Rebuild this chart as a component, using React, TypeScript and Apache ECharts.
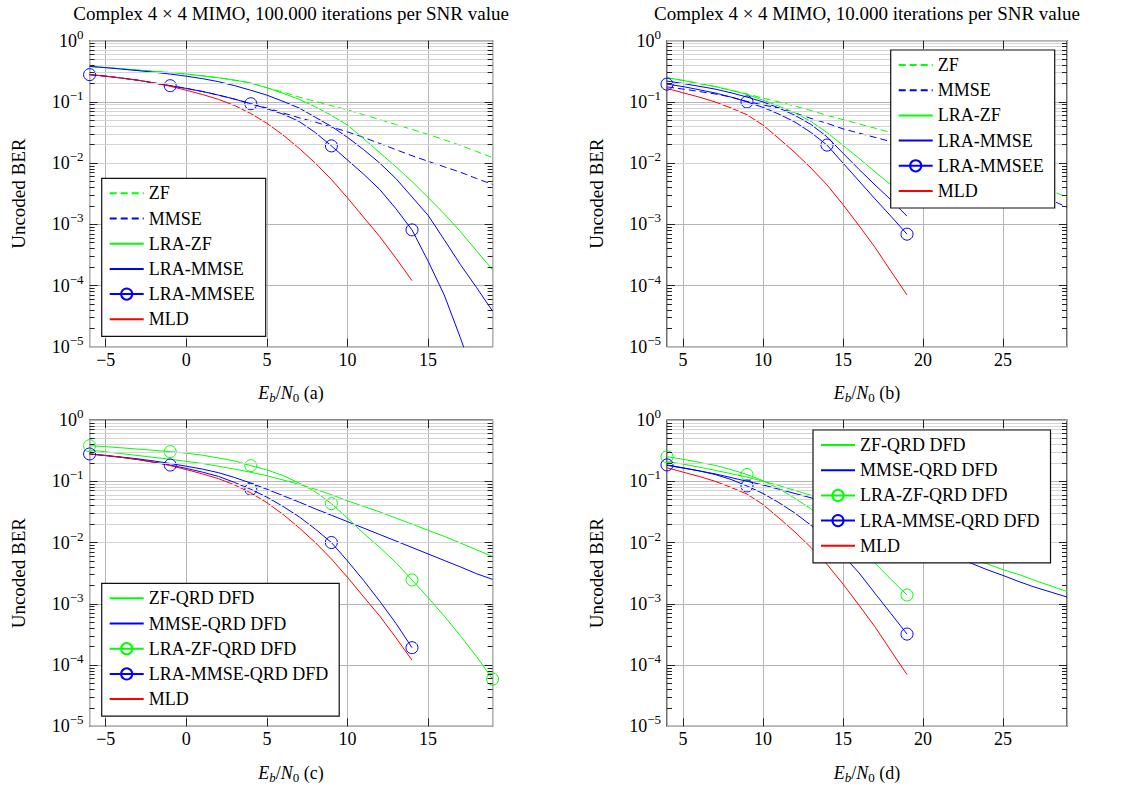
import React, { useEffect, useRef } from "react";
import * as echarts from "echarts";

const FONT = "Liberation Serif, serif";
const GREEN = "#00ff00";
const BLUE = "#0000ff";
const RED = "#ff0000";
const MAJOR_GRID = "#b4b4b4";
const MINOR_GRID = "#d4d4d4";
const TICK = "#222222";

// ---------- axes / ticks ----------
const X_AC = [-6, -5, -4, -3, -2, -1, 0, 1, 2, 3, 4, 5, 6, 7, 8, 9, 10, 11, 12, 13, 14, 15, 16, 17, 18, 19];
const X_BD = [4, 5, 6, 7, 8, 9, 10, 11, 12, 13, 14, 15, 16, 17, 18, 19, 20, 21, 22, 23, 24, 25, 26, 27, 28, 29];
const X_TICKS_AC = [-5, 0, 5, 10, 15];
const X_TICKS_BD = [5, 10, 15, 20, 25];
const DECADES = [1e-5, 1e-4, 1e-3, 1e-2, 1e-1, 1];
const MINOR_FACTORS = [2, 3, 4, 5, 6, 7, 8, 9];

const TITLES = [
  "Complex 4 × 4 MIMO, 100.000 iterations per SNR value",
  "Complex 4 × 4 MIMO, 10.000 iterations per SNR value",
];
const Y_NAME = "Uncoded BER";
const PANEL_TAGS = ["(a)", "(b)", "(c)", "(d)"];

// ---------- panel (a) ----------
const A_ZF = [0.380, 0.363, 0.347, 0.331, 0.316, 0.302, 0.285, 0.266, 0.248, 0.226, 0.204, 0.170, 0.145, 0.120, 0.102, 0.087, 0.074, 0.0617, 0.0513, 0.0427, 0.0355, 0.0295, 0.024, 0.0195, 0.0155, 0.0123];
const A_MMSE = [0.279, 0.263, 0.245, 0.226, 0.204, 0.184, 0.166, 0.148, 0.129, 0.111, 0.0933, 0.0794, 0.0661, 0.0550, 0.0468, 0.0389, 0.0324, 0.0263, 0.0209, 0.0166, 0.0132, 0.0107, 0.0087, 0.0071, 0.0056, 0.0045];
const A_LRA_ZF = [0.380, 0.363, 0.347, 0.331, 0.316, 0.302, 0.285, 0.266, 0.248, 0.226, 0.204, 0.170, 0.138, 0.110, 0.0832, 0.0603, 0.0417, 0.0251, 0.0148, 0.0087, 0.0050, 0.00275, 0.00148, 0.00076, 0.00037, 0.00018];
const A_LRA_MMSE = [0.380, 0.363, 0.343, 0.324, 0.305, 0.285, 0.263, 0.240, 0.214, 0.184, 0.155, 0.129, 0.102, 0.0794, 0.0562, 0.0398, 0.0263, 0.0166, 0.0100, 0.0056, 0.0028, 0.0014, 0.00056, 0.00022, 0.000093, 0.000038];
const A_LRA_MMSEE = [0.279, 0.263, 0.245, 0.226, 0.204, 0.184, 0.166, 0.148, 0.129, 0.111, 0.0933, 0.0776, 0.0631, 0.0479, 0.0316, 0.0191, 0.0112, 0.0066, 0.0037, 0.0018, 0.00081, 0.00025, 0.00007, 0.000014, 0.0000025];
const A_MLD = [0.279, 0.263, 0.245, 0.226, 0.204, 0.180, 0.155, 0.132, 0.110, 0.0871, 0.0646, 0.0447, 0.0288, 0.0174, 0.0100, 0.0054, 0.0027, 0.0013, 0.00063, 0.00028, 0.00012];

// ---------- panel (b) ----------
const B_ZF = [0.248, 0.224, 0.200, 0.178, 0.155, 0.135, 0.115, 0.100, 0.0851, 0.0724, 0.0603, 0.0513, 0.0437, 0.0372, 0.0316, 0.0269, 0.0219, 0.0178, 0.0145, 0.0117, 0.0093, 0.0074, 0.0059, 0.0046, 0.0035, 0.0028];
const B_MMSE = [0.176, 0.162, 0.148, 0.135, 0.120, 0.102, 0.0891, 0.0794, 0.0661, 0.0537, 0.0447, 0.0363, 0.0309, 0.0263, 0.0224, 0.0182, 0.0148, 0.0120, 0.0098, 0.0078, 0.0062, 0.0049, 0.0039, 0.0031, 0.0025, 0.0019];
const B_LRA_ZF = [0.248, 0.224, 0.200, 0.178, 0.155, 0.132, 0.107, 0.0851, 0.0661, 0.0479, 0.0316, 0.0195, 0.0120, 0.0072, 0.0044, 0.0025];
const B_LRA_MMSE = [0.219, 0.200, 0.180, 0.162, 0.141, 0.120, 0.100, 0.0794, 0.0603, 0.0427, 0.0269, 0.0145, 0.0079, 0.0044, 0.0025, 0.00136];
const B_LRA_MMSEE = [0.195, 0.178, 0.158, 0.140, 0.120, 0.100, 0.0813, 0.0631, 0.0468, 0.0316, 0.0197, 0.0100, 0.0051, 0.0026, 0.00135, 0.00069];
const B_MLD = [0.166, 0.141, 0.120, 0.100, 0.0794, 0.0617, 0.0417, 0.0251, 0.0148, 0.0083, 0.0044, 0.0021, 0.00095, 0.00042, 0.00017, 0.00007];

// ---------- panel (c) ----------
const C_ZF_QRD = [0.324, 0.302, 0.282, 0.263, 0.245, 0.229, 0.211, 0.195, 0.176, 0.158, 0.140, 0.123, 0.105, 0.0891, 0.0741, 0.0603, 0.0479, 0.0389, 0.0316, 0.0251, 0.0200, 0.0158, 0.0126, 0.0098, 0.0076, 0.0059];
const C_MMSE_QRD = [0.279, 0.263, 0.248, 0.232, 0.214, 0.195, 0.176, 0.158, 0.138, 0.115, 0.0933, 0.0741, 0.0582, 0.0457, 0.0355, 0.0279, 0.0219, 0.0172, 0.0135, 0.0106, 0.0083, 0.0065, 0.0051, 0.0040, 0.0031, 0.0025];
const C_LRA_ZF_QRD = [0.381, 0.367, 0.351, 0.335, 0.320, 0.304, 0.288, 0.266, 0.240, 0.214, 0.180, 0.153, 0.124, 0.0933, 0.0676, 0.0431, 0.0251, 0.0141, 0.0083, 0.0047, 0.00245, 0.00126, 0.00063, 0.0003, 0.000138, 0.0000589];
const C_LRA_MMSE_QRD = [0.279, 0.263, 0.245, 0.226, 0.204, 0.184, 0.162, 0.141, 0.120, 0.0955, 0.0741, 0.0550, 0.0389, 0.0263, 0.0166, 0.0100, 0.0050, 0.0024, 0.0011, 0.00048, 0.000192];
const C_MLD = [0.279, 0.263, 0.245, 0.226, 0.204, 0.180, 0.155, 0.132, 0.110, 0.0871, 0.0646, 0.0447, 0.0288, 0.0174, 0.0100, 0.0054, 0.0027, 0.0013, 0.00063, 0.00028, 0.00012];

// ---------- panel (d) ----------
const D_ZF_QRD = [0.209, 0.191, 0.170, 0.151, 0.133, 0.117, 0.100, 0.0851, 0.0708, 0.0589, 0.0468, 0.0363, 0.0282, 0.0224, 0.0174, 0.0138, 0.0110, 0.0087, 0.0069, 0.0055, 0.0045, 0.0036, 0.0030, 0.0024, 0.00195, 0.00158];
const D_MMSE_QRD = [0.182, 0.164, 0.148, 0.132, 0.115, 0.100, 0.0871, 0.0741, 0.0631, 0.0537, 0.0427, 0.0331, 0.0257, 0.0200, 0.0155, 0.0120, 0.0093, 0.0074, 0.0058, 0.0046, 0.0036, 0.0029, 0.0023, 0.00186, 0.00155, 0.00129];
const D_LRA_ZF_QRD = [0.251, 0.229, 0.204, 0.182, 0.155, 0.129, 0.102, 0.0759, 0.0525, 0.0355, 0.0219, 0.0132, 0.0079, 0.0046, 0.0025, 0.00139];
const D_LRA_MMSE_QRD = [0.185, 0.166, 0.148, 0.129, 0.107, 0.0838, 0.0631, 0.0447, 0.0302, 0.0191, 0.0110, 0.0062, 0.0032, 0.00148, 0.00069, 0.00032];
const D_MLD = [0.166, 0.141, 0.120, 0.100, 0.0794, 0.0617, 0.0417, 0.0251, 0.0148, 0.0083, 0.0044, 0.0021, 0.00095, 0.00042, 0.00017, 0.00007];

type Spec = { name: string; x: number[]; y: number[]; color: string; dashed?: boolean; marks?: boolean };

const PANELS = [
  {
    left: 89.6, top: 40.7, width: 403, height: 306, xMin: -6, xMax: 19, xTicks: X_TICKS_AC,
    legendLeft: 101.7, legendTop: 178.3,
    specs: [
      { name: "ZF", x: X_AC, y: A_ZF, color: GREEN, dashed: true },
      { name: "MMSE", x: X_AC, y: A_MMSE, color: BLUE, dashed: true },
      { name: "LRA-ZF", x: X_AC, y: A_LRA_ZF, color: GREEN },
      { name: "LRA-MMSE", x: X_AC, y: A_LRA_MMSE, color: BLUE },
      { name: "LRA-MMSEE", x: X_AC, y: A_LRA_MMSEE, color: BLUE, marks: true },
      { name: "MLD", x: X_AC, y: A_MLD, color: RED },
    ] as Spec[],
  },
  {
    left: 667, top: 40.7, width: 400, height: 306, xMin: 4, xMax: 29, xTicks: X_TICKS_BD,
    legendLeft: 890.7, legendTop: 50,
    specs: [
      { name: "ZF", x: X_BD, y: B_ZF, color: GREEN, dashed: true },
      { name: "MMSE", x: X_BD, y: B_MMSE, color: BLUE, dashed: true },
      { name: "LRA-ZF", x: X_BD, y: B_LRA_ZF, color: GREEN },
      { name: "LRA-MMSE", x: X_BD, y: B_LRA_MMSE, color: BLUE },
      { name: "LRA-MMSEE", x: X_BD, y: B_LRA_MMSEE, color: BLUE, marks: true },
      { name: "MLD", x: X_BD, y: B_MLD, color: RED },
    ] as Spec[],
  },
  {
    left: 89.6, top: 420, width: 403, height: 306.3, xMin: -6, xMax: 19, xTicks: X_TICKS_AC,
    legendLeft: 101.7, legendTop: 583.3,
    specs: [
      { name: "ZF-QRD DFD", x: X_AC, y: C_ZF_QRD, color: GREEN },
      { name: "MMSE-QRD DFD", x: X_AC, y: C_MMSE_QRD, color: BLUE },
      { name: "LRA-ZF-QRD DFD", x: X_AC, y: C_LRA_ZF_QRD, color: GREEN, marks: true },
      { name: "LRA-MMSE-QRD DFD", x: X_AC, y: C_LRA_MMSE_QRD, color: BLUE, marks: true },
      { name: "MLD", x: X_AC, y: C_MLD, color: RED },
    ] as Spec[],
  },
  {
    left: 667, top: 420, width: 400, height: 306.3, xMin: 4, xMax: 29, xTicks: X_TICKS_BD,
    legendLeft: 813, legendTop: 430,
    specs: [
      { name: "ZF-QRD DFD", x: X_BD, y: D_ZF_QRD, color: GREEN },
      { name: "MMSE-QRD DFD", x: X_BD, y: D_MMSE_QRD, color: BLUE },
      { name: "LRA-ZF-QRD DFD", x: X_BD, y: D_LRA_ZF_QRD, color: GREEN, marks: true },
      { name: "LRA-MMSE-QRD DFD", x: X_BD, y: D_LRA_MMSE_QRD, color: BLUE, marks: true },
      { name: "MLD", x: X_BD, y: D_MLD, color: RED },
    ] as Spec[],
  },
];

function mkSeries(s: Spec, gi: number) {
  return {
    type: "line",
    name: s.name,
    xAxisIndex: gi,
    yAxisIndex: gi,
    data: s.y.map((v, i) =>
      s.marks ? { value: [s.x[i], v], symbol: i % 5 === 0 ? "circle" : "none" } : [s.x[i], v]
    ),
    symbol: s.marks ? "circle" : "none",
    symbolSize: 12,
    showSymbol: !!s.marks,
    lineStyle: { color: s.color, width: 1, type: s.dashed ? [7, 4] : "solid" },
    itemStyle: { color: s.marks ? "rgba(0,0,0,0)" : s.color, borderColor: s.color, borderWidth: 1 },
    emphasis: { disabled: true },
    silent: true,
    clip: true,
    z: 3,
  };
}

function decoSeries(p: any, gi: number) {
  const pxX = p.width / (p.xMax - p.xMin);
  const pxDec = p.height / 5;
  const minorStyle = { color: MINOR_GRID, width: 1, type: "solid" };
  const tickStyle = { color: TICK, width: 1, type: "solid" };
  const data: any[] = [];
  const minors: number[] = [];
  for (let d = 0; d < 5; d++) for (const f of MINOR_FACTORS) minors.push(DECADES[d] * f);
  for (const v of minors) data.push({ yAxis: v, lineStyle: minorStyle });
  const seg = (x1: number, y1: number, x2: number, y2: number) => [
    { coord: [x1, y1], lineStyle: tickStyle },
    { coord: [x2, y2] },
  ];
  const minLen = 5 / pxX;
  const majLen = 8 / pxX;
  for (const v of minors) {
    data.push(seg(p.xMin, v, p.xMin + minLen, v));
    data.push(seg(p.xMax - minLen, v, p.xMax, v));
  }
  for (let d = 1; d < 5; d++) {
    const v = DECADES[d];
    data.push(seg(p.xMin, v, p.xMin + majLen, v));
    data.push(seg(p.xMax - majLen, v, p.xMax, v));
  }
  const f = Math.pow(10, 8 / pxDec);
  for (const t of p.xTicks) {
    data.push(seg(t, DECADES[0], t, DECADES[0] * f));
    data.push(seg(t, 1, t, 1 / f));
  }
  return {
    type: "line",
    name: "_deco" + gi,
    xAxisIndex: gi,
    yAxisIndex: gi,
    data: [],
    silent: true,
    z: 2,
    markLine: {
      silent: true,
      symbol: ["none", "none"],
      label: { show: false },
      emphasis: { disabled: true },
      animation: false,
      data,
    },
  };
}

function buildOption() {
  const series: any[] = [];
  PANELS.forEach((p, gi) => {
    series.push(decoSeries(p, gi));
    p.specs.forEach((s) => series.push(mkSeries(s, gi)));
  });

  const graphic: any[] = [];
  [0, 1].forEach((i) => {
    const p = PANELS[i];
    graphic.push({
      type: "text",
      x: p.left + p.width / 2,
      y: 13,
      silent: true,
      style: { text: TITLES[i], fontFamily: FONT, fontSize: 19, fill: "#000", align: "center", verticalAlign: "middle" },
    });
  });
  PANELS.forEach((p, i) => {
    graphic.push({
      type: "text",
      x: p.left - 71,
      y: p.top + p.height / 2,
      rotation: Math.PI / 2,
      silent: true,
      style: { text: Y_NAME, fontFamily: FONT, fontSize: 19, fill: "#000", align: "center", verticalAlign: "middle" },
    });
    graphic.push({
      type: "text",
      x: p.left + p.width / 2,
      y: p.top + p.height + 46.5,
      silent: true,
      style: {
        text: `{i|E}{si|b}{n|/}{i|N}{s|0}{n| ${PANEL_TAGS[i]}}`,
        align: "center",
        verticalAlign: "middle",
        rich: {
          n: { fontFamily: FONT, fontSize: 18, lineHeight: 22, fill: "#000" },
          i: { fontFamily: FONT, fontSize: 18, lineHeight: 22, fontStyle: "italic", fill: "#000" },
          s: { fontFamily: FONT, fontSize: 13, lineHeight: 13, fill: "#000", verticalAlign: "bottom" },
          si: { fontFamily: FONT, fontSize: 13, lineHeight: 13, fontStyle: "italic", fill: "#000", verticalAlign: "bottom" },
        },
      },
    });
  });

  return {
    animation: false,
    backgroundColor: "#ffffff",
    textStyle: { fontFamily: FONT },
    grid: PANELS.map((p) => ({
      left: p.left,
      top: p.top,
      width: p.width,
      height: p.height,
      show: true,
      borderColor: "#111",
      borderWidth: 1.2,
      backgroundColor: "transparent",
      containLabel: false,
    })),
    xAxis: PANELS.map((p, i) => ({
      type: "value",
      gridIndex: i,
      min: p.xMin,
      max: p.xMax,
      splitNumber: 5,
      axisLine: { show: false },
      axisTick: { show: false },
      splitLine: { show: true, lineStyle: { color: MAJOR_GRID, width: 1 } },
      axisLabel: {
        show: true,
        showMinLabel: false,
        showMaxLabel: false,
        margin: 4,
        fontFamily: FONT,
        fontSize: 18,
        color: "#000",
        formatter: (v: number) => (v < 0 ? "\u2212" + -v : String(v)),
      },
    })),
    yAxis: PANELS.map((p, i) => ({
      type: "log",
      logBase: 10,
      gridIndex: i,
      min: DECADES[0],
      max: DECADES[5],
      axisLine: { show: false },
      axisTick: { show: false },
      splitLine: { show: true, lineStyle: { color: MAJOR_GRID, width: 1 } },
      minorTick: { show: false },
      axisLabel: {
        margin: 6,
        formatter: (v: number) => {
          const e = Math.round(Math.log10(v));
          return `{b|10}{s|${e === 0 ? "0" : "\u2212" + -e}}`;
        },
        rich: {
          b: { fontFamily: FONT, fontSize: 18, lineHeight: 26, color: "#000" },
          s: { fontFamily: FONT, fontSize: 13, lineHeight: 13, color: "#000", verticalAlign: "top" },
        },
      },
    })),
    legend: PANELS.map((p) => ({
      orient: "vertical",
      left: p.legendLeft,
      top: p.legendTop,
      data: p.specs.map((s) => (s.marks ? { name: s.name } : { name: s.name, itemStyle: { opacity: 0 } })),
      backgroundColor: "#ffffff",
      borderColor: "#111",
      borderWidth: 1.2,
      borderRadius: 0,
      padding: [6, 11, 8, 7],
      itemWidth: 34,
      itemHeight: 14,
      itemGap: 7.2,
      selectedMode: false,
      textStyle: { fontFamily: FONT, fontSize: 18, color: "#000" },
      z: 10,
    })),
    series,
    graphic,
  };
}

export default function App() {
  const ref = useRef<HTMLDivElement>(null);
  useEffect(() => {
    if (!ref.current) return;
    const chart = echarts.init(ref.current, null, { renderer: "svg" });
    chart.setOption(buildOption() as any);
    return () => chart.dispose();
  }, []);
  return (
    <div
      ref={ref}
      style={{ position: "absolute", left: 0, top: 0, width: 1146, height: 789, background: "#fff" }}
    />
  );
}
